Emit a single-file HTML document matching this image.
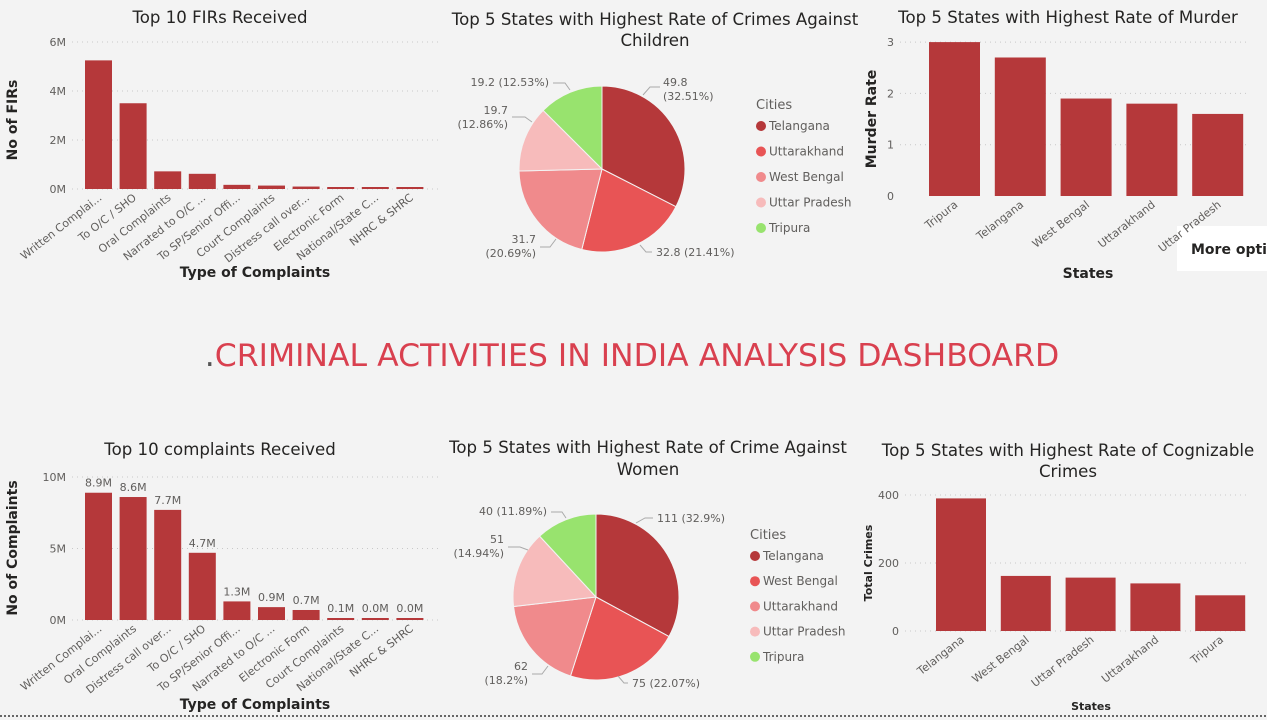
<!DOCTYPE html>
<html><head><meta charset="utf-8"><style>
html,body{margin:0;padding:0;background:#f3f3f3;}
svg{display:block;font-family:"DejaVu Sans","Liberation Sans",sans-serif;}
.t{font-size:16.6px;fill:#252423;text-anchor:middle;}
.tk{font-size:11px;fill:#605e5c;}
.at{font-size:14px;font-weight:bold;fill:#252423;text-anchor:middle;}
.lb{font-size:11px;fill:#605e5c;}
.lg{font-size:12px;fill:#605e5c;}
.g{stroke:#c8c8c8;stroke-dasharray:1 4;stroke-width:1;}
.b{fill:#b5383a;}
</style></head><body>
<svg id="s" width="1267" height="720" xmlns="http://www.w3.org/2000/svg">
<text class="t" x="220" y="23">Top 10 FIRs Received</text>
<text class="t" x="655" y="25">Top 5 States with Highest Rate of Crimes Against</text>
<text class="t" x="655" y="46">Children</text>
<text class="t" x="1068" y="23">Top 5 States with Highest Rate of Murder</text>
<text class="t" x="220" y="455">Top 10 complaints Received</text>
<text class="t" x="648" y="453">Top 5 States with Highest Rate of Crime Against</text>
<text class="t" x="648" y="475">Women</text>
<text class="t" x="1068" y="456">Top 5 States with Highest Rate of Cognizable</text>
<text class="t" x="1068" y="477">Crimes</text>

<text x="632" y="366" text-anchor="middle" style="font-size:31.5px;fill:#d9404f;font-family:'DejaVu Sans','Liberation Sans',sans-serif"><tspan fill="#555">.</tspan>CRIMINAL ACTIVITIES IN INDIA ANALYSIS DASHBOARD</text>
<line x1="0" y1="716" x2="1267" y2="716" stroke="#666" stroke-dasharray="2 2" stroke-width="2"/>

<rect x="1177" y="226" width="95" height="45" fill="#fff"/>
<text x="1191" y="254" style="font-size:14px;font-weight:bold;fill:#252423">More optio</text>
<g id="dyn"></g>
</svg>
<script>
const S=document.getElementById('dyn');let h='';
function bars(x0,step,w,base,ppu,vals,labs,gr,gx1,gx2,ylabs,fmt,labelVals){
 gr.forEach((v,i)=>{const y=base-v*ppu;h+=`<line class="g" x1="${gx1}" y1="${y}" x2="${gx2}" y2="${y}"/>`;h+=`<text class="tk" x="${gx1-6}" y="${y+4}" text-anchor="end">${ylabs[i]}</text>`;});
 vals.forEach((v,i)=>{const x=x0+i*step;const hh=Math.max(v*ppu,2);h+=`<rect class="b" x="${x}" y="${base-hh}" width="${w}" height="${hh}"/>`;
 if(labelVals)h+=`<text class="lb" x="${x+w/2}" y="${base-hh-6}" text-anchor="middle">${labelVals[i]}</text>`;
 const cx=x+w/2+4;h+=`<text class="lb" transform="translate(${cx},${base+10}) rotate(-38)" text-anchor="end">${labs[i]}</text>`;});
}
const L1=["Written Complai...","To O/C / SHO","Oral Complaints","Narrated to O/C ...","To SP/Senior Offi...","Court Complaints","Distress call over...","Electronic Form","National/State C...","NHRC & SHRC"];
bars(85,34.6,27,189,24.5,[5.25,3.5,0.72,0.62,0.17,0.14,0.1,0.06,0.06,0.06],L1,[0,2,4,6],72,440,["0M","2M","4M","6M"]);
const L2=["Written Complai...","Oral Complaints","Distress call over...","To O/C / SHO","To SP/Senior Offi...","Narrated to O/C ...","Electronic Form","Court Complaints","National/State C...","NHRC & SHRC"];
bars(85,34.6,27,620,14.3,[8.9,8.6,7.7,4.7,1.3,0.9,0.7,0.1,0.03,0.03],L2,[0,5,10],72,440,["0M","5M","10M"],null,["8.9M","8.6M","7.7M","4.7M","1.3M","0.9M","0.7M","0.1M","0.0M","0.0M"]);
bars(929,65.8,51,196,51.3,[3,2.7,1.9,1.8,1.6],["Tripura","Telangana","West Bengal","Uttarakhand","Uttar Pradesh"],[1,2,3],900,1250,["1","2","3"]);
h+=`<text class="tk" x="894" y="200" text-anchor="end">0</text>`;
bars(936,64.8,50,631,0.34,[390,162,157,140,105],["Telangana","West Bengal","Uttar Pradesh","Uttarakhand","Tripura"],[0,200,400],905,1250,["0","200","400"]);
h+=`<text class="at" transform="translate(17,120) rotate(-90)">No of FIRs</text>`;
h+=`<text class="at" x="255" y="277">Type of Complaints</text>`;
h+=`<text class="at" transform="translate(17,548) rotate(-90)">No of Complaints</text>`;
h+=`<text class="at" x="255" y="709">Type of Complaints</text>`;
h+=`<text class="at" transform="translate(876,119) rotate(-90)">Murder Rate</text>`;
h+=`<text class="at" x="1088" y="278">States</text>`;
h+=`<text class="at" style="font-size:11px" transform="translate(872,563) rotate(-90)">Total Crimes</text>`;
h+=`<text class="at" style="font-size:11px" x="1091" y="710">States</text>`;
function pie(cx,cy,r,pcts,cols){let a=-Math.PI/2;pcts.forEach((p,i)=>{const b=a+p/100*2*Math.PI;const x1=cx+r*Math.cos(a),y1=cy+r*Math.sin(a),x2=cx+r*Math.cos(b),y2=cy+r*Math.sin(b);
h+=`<path d="M${cx},${cy}L${x1},${y1}A${r},${r} 0 ${p>50?1:0} 1 ${x2},${y2}Z" fill="${cols[i]}" stroke="#f3f3f3" stroke-width="1"/>`;a=b;});}
const C=["#b5383a","#e85455","#f08a8c","#f7bbbb","#98e36e"];
pie(602,169,83,[32.51,21.41,20.69,12.86,12.53],C);
pie(596,597,83,[32.9,22.07,18.2,14.94,11.89],C);
function legend(x,y,names,cols,dy){h+=`<text x="${x}" y="${y}" style="font-size:13px;fill:#605e5c">Cities</text>`;names.forEach((n,i)=>{const yy=y+21+i*dy;h+=`<circle cx="${x+5}" cy="${yy-4}" r="5" fill="${cols[i]}"/><text class="lg" x="${x+13}" y="${yy}">${n}</text>`;});}
legend(756,109,["Telangana","Uttarakhand","West Bengal","Uttar Pradesh","Tripura"],C,25.5);
legend(750,539,["Telangana","West Bengal","Uttarakhand","Uttar Pradesh","Tripura"],C,25.2);
const pl=(x,y,t,a)=>{h+=`<text class="lb" x="${x}" y="${y}" text-anchor="${a||'start'}">${t}</text>`;};
const ln=(p)=>{h+=`<polyline points="${p}" fill="none" stroke="#aaa"/>`;};
pl(663,86,"49.8");pl(663,100,"(32.51%)");ln("643,95 650,87 660,87");
pl(656,256,"32.8 (21.41%)");ln("640,245 646,252 652,252");
pl(536,243,"31.7","end");pl(536,257,"(20.69%)","end");ln("556,239 550,247 540,247");
pl(508,114,"19.7","end");pl(508,128,"(12.86%)","end");ln("532,122 525,117 512,117");
pl(549,86,"19.2 (12.53%)","end");ln("553,83 565,83 570,90");
pl(657,522,"111 (32.9%)");ln("636,523 645,518 653,518");
pl(632,687,"75 (22.07%)");ln("618,676 624,683 628,683");
pl(528,670,"62","end");pl(528,684,"(18.2%)","end");ln("548,666 542,674 532,674");
pl(504,543,"51","end");pl(504,557,"(14.94%)","end");ln("528,550 520,547 508,547");
pl(547,515,"40 (11.89%)","end");ln("551,512 562,512 566,518");
S.innerHTML=h;
</script>
</body></html>
